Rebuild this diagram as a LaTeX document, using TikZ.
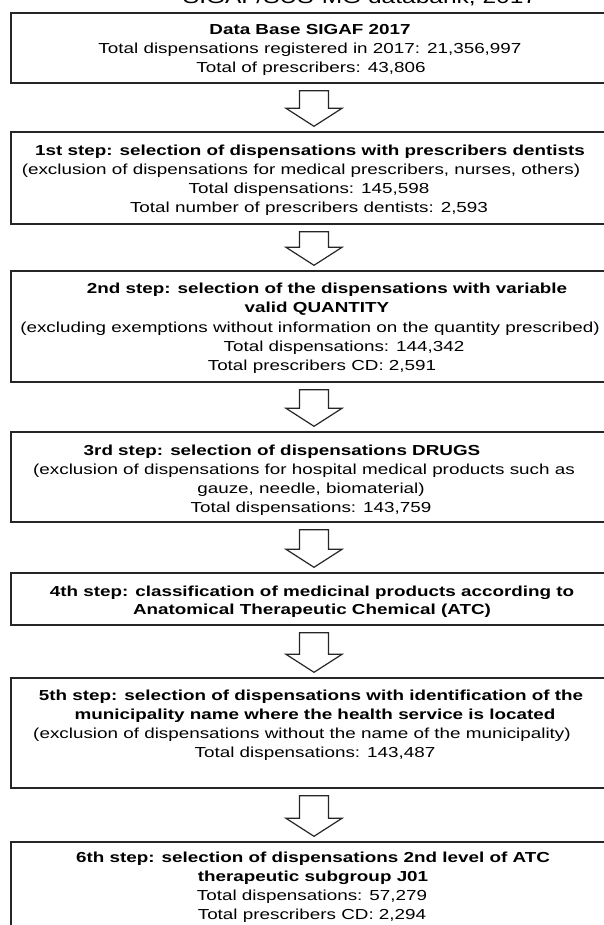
\documentclass[tikz,border=0pt]{standalone}
\usepackage{fontspec}
\setmainfont{Liberation Sans}
\usetikzlibrary{calc}
\newcommand\wtext[1]{\scalebox{1.30}[1]{#1}}
\newcommand\flowarrow[2]{%
  \draw[blockarrow] let \p1=($(#1.south)+(0,7)$), \p2=($(#2.north)+(0,-5)$) in
    (\x1-14.5pt,\y1) -- (\x1+14.5pt,\y1) -- (\x1+14.5pt,\y2+18pt) -- (\x1+28pt,\y2+18pt)
    -- (\x1,\y2) -- (\x1-28pt,\y2+18pt) -- (\x1-14.5pt,\y2+18pt) -- cycle;}
\begin{document}
\begin{tikzpicture}[x=1pt,y=-1pt,
  stepbox/.style={draw=black!85, line width=1.4pt, inner sep=0pt, minimum width=606pt},
  txt/.style={anchor=base, inner sep=0pt, font=\fontsize{14.5}{17}\selectfont},
  btxt/.style={anchor=base, inner sep=0pt, font=\fontsize{14.5}{17}\selectfont\bfseries},
  blockarrow/.style={draw=black!85, line width=1.2pt, fill=white, line join=miter}]
\useasboundingbox (0,0) rectangle (604,925);
% title (cropped at top)
\node[anchor=base, inner sep=0pt, font=\fontsize{19}{22}\selectfont] (title) at (360,3.5) {\scalebox{1.29}[1]{SIGAF/SUS-MG databank, 2017}};
% boxes
\node[stepbox, minimum height=70pt]  (b1) at (314,48) {};
\node[stepbox, minimum height=92pt]  (b2) at (314,178) {};
\node[stepbox, minimum height=111pt] (b3) at (314,326.5) {};
\node[stepbox, minimum height=90pt]  (b4) at (314,477) {};
\node[stepbox, minimum height=52pt]  (b5) at (314,599) {};
\node[stepbox, minimum height=110pt] (b6) at (314,733) {};
\node[stepbox, minimum height=98pt]  (b7) at (314,891) {};
% arrows
\flowarrow{b1}{b2}
\flowarrow{b2}{b3}
\flowarrow{b3}{b4}
\flowarrow{b4}{b5}
\flowarrow{b5}{b6}
\flowarrow{b6}{b7}
% box 1
\node[btxt] (b1a) at (310,35) {\wtext{Data Base SIGAF 2017}};
\node[txt]  (b1b) at (310,54) {\wtext{Total dispensations registered in 2017: 21,356,997}};
\node[txt]  (b1c) at (311,73) {\wtext{Total of prescribers: 43,806}};
% box 2
\node[btxt] (b2a) at (310,156) {\wtext{1st step: selection of dispensations with prescribers dentists}};
\node[txt]  (b2b) at (301,175) {\wtext{(exclusion of dispensations for medical prescribers, nurses, others)}};
\node[txt]  (b2c) at (309,194) {\wtext{Total dispensations: 145,598}};
\node[txt]  (b2d) at (309,213) {\wtext{Total number of prescribers dentists: 2,593}};
% box 3
\node[btxt] (b3a) at (327,293) {\wtext{2nd step: selection of the dispensations with variable}};
\node[btxt] (b3b) at (317,312.5) {\wtext{valid QUANTITY}};
\node[txt]  (b3c) at (310,332) {\wtext{(excluding exemptions without information on the quantity prescribed)}};
\node[txt]  (b3d) at (344,351) {\wtext{Total dispensations: 144,342}};
\node[txt]  (b3e) at (322,370) {\wtext{Total prescribers CD: 2,591}};
% box 4
\node[btxt] (b4a) at (282,455) {\wtext{3rd step: selection of dispensations DRUGS}};
\node[txt]  (b4b) at (304,474) {\wtext{(exclusion of dispensations for hospital medical products such as}};
\node[txt]  (b4c) at (311,493) {\wtext{gauze, needle, biomaterial)}};
\node[txt]  (b4d) at (311,512) {\wtext{Total dispensations: 143,759}};
% box 5
\node[btxt] (b5a) at (312,596) {\wtext{4th step: classification of medicinal products according to}};
\node[btxt] (b5b) at (312,614) {\wtext{Anatomical Therapeutic Chemical (ATC)}};
% box 6
\node[btxt] (b6a) at (311,700) {\wtext{5th step: selection of dispensations with identification of the}};
\node[btxt] (b6b) at (315,719) {\wtext{municipality name where the health service is located}};
\node[txt]  (b6c) at (302,738) {\wtext{(exclusion of dispensations without the name of the municipality)}};
\node[txt]  (b6d) at (315,757) {\wtext{Total dispensations: 143,487}};
% box 7
\node[btxt] (b7a) at (313,862) {\wtext{6th step: selection of dispensations 2nd level of ATC}};
\node[btxt] (b7b) at (313,881) {\wtext{therapeutic subgroup J01}};
\node[txt]  (b7c) at (312,900) {\wtext{Total dispensations: 57,279}};
\node[txt]  (b7d) at (312,919) {\wtext{Total prescribers CD: 2,294}};
\end{tikzpicture}
\end{document}
